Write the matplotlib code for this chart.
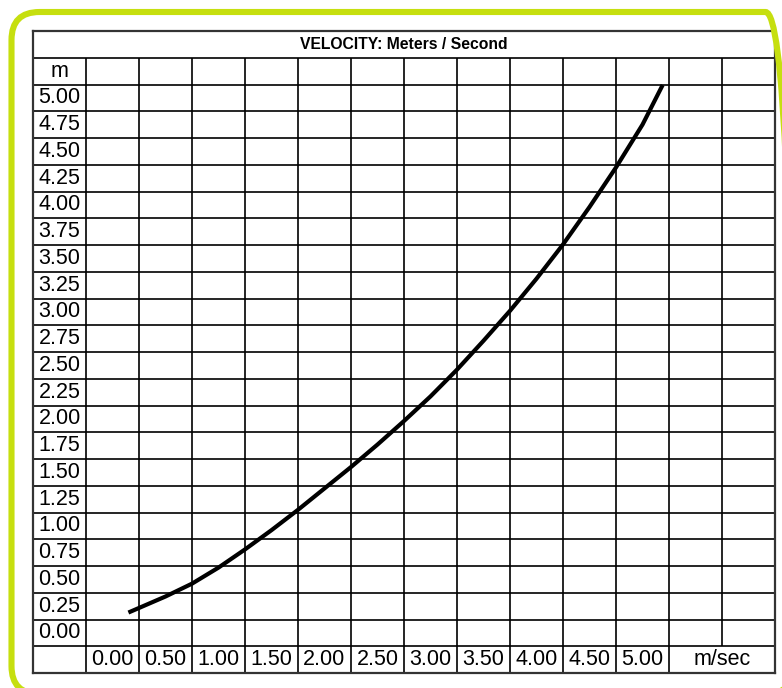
import numpy as np
import matplotlib
matplotlib.use("Agg")
import matplotlib.pyplot as plt
from matplotlib.patches import FancyBboxPatch

plt.rcParams["font.family"] = ["Liberation Sans", "DejaVu Sans"]
plt.rcParams["savefig.bbox"] = "standard"

TITLE = "VELOCITY: Meters / Second"
Y_UNIT = "m"
X_UNIT = "m/sec"

# row / column labels of the table (cell centres in data units)
Y_LABELS = [0.00, 0.25, 0.50, 0.75, 1.00, 1.25, 1.50, 1.75, 2.00, 2.25, 2.50,
            2.75, 3.00, 3.25, 3.50, 3.75, 4.00, 4.25, 4.50, 4.75, 5.00]
X_LABELS = [0.00, 0.50, 1.00, 1.50, 2.00, 2.50, 3.00, 3.50, 4.00, 4.50, 5.00]

# curve
velocity = [0.15, 0.50, 0.75, 1.00, 1.25, 1.50, 1.75, 2.00, 2.25, 2.50, 2.75,
            3.00, 3.25, 3.50, 3.75, 4.00, 4.25, 4.50, 4.75, 5.00, 5.19]
meters = [0.19, 0.34, 0.46, 0.61, 0.78, 0.96, 1.15, 1.35, 1.55, 1.76, 1.98,
          2.21, 2.46, 2.73, 3.01, 3.31, 3.63, 3.98, 4.35, 4.75, 5.12]

W, H = 782, 688
fig = plt.figure(figsize=(W / 100, H / 100), dpi=100)

# green rounded frame in display pixels (origin bottom-left), running off the canvas
frame = FancyBboxPatch((11.5, -6), 782, 682, boxstyle="round,pad=0,rounding_size=28",
                       fill=False, edgecolor="#c6df0f", linewidth=4.4, transform=None)
fig.patches.append(frame)

# table area
x0, x1, y0, y1 = 33, 775, 31, 673
ax = fig.add_axes([x0 / W, 1 - y1 / H, (x1 - x0) / W, (y1 - y0) / H])
xstep = X_LABELS[1] - X_LABELS[0]
ystep = Y_LABELS[1] - Y_LABELS[0]
xmin, xmax = X_LABELS[0] - 1.5 * xstep, X_LABELS[-1] + 2.5 * xstep
ymin, ymax = Y_LABELS[0] - 1.5 * ystep, Y_LABELS[-1] + 2.5 * ystep
ax.set_xlim(xmin, xmax)
ax.set_ylim(ymin, ymax)
ax.set_xticks([])
ax.set_yticks([])
for s in ax.spines.values():
    s.set_linewidth(1.6)
    s.set_color("#333333")

lw = 1.2
title_bottom = ymax - ystep
# horizontal lines
for yv in np.arange(ymin + ystep, ymax - 0.5 * ystep, ystep):
    ax.hlines(yv, xmin, xmax, color="black", linewidth=lw)
# vertical lines (first column edge + every label column)
col_edges = [X_LABELS[0] - 0.5 * xstep] + [v + 0.5 * xstep for v in X_LABELS]
for xv in col_edges:
    ax.vlines(xv, ymin, title_bottom, color="black", linewidth=lw)
# extra column line above the unit cell
ax.vlines(X_LABELS[-1] + 1.5 * xstep, ymin + ystep, title_bottom, color="black", linewidth=lw)

label_x = X_LABELS[0] - xstep
label_y = Y_LABELS[0] - ystep
fs = 15.5
for v in Y_LABELS:
    ax.text(label_x, v, f"{v:.2f}", ha="center", va="center", fontsize=fs)
ax.text(label_x, Y_LABELS[-1] + ystep, Y_UNIT, ha="center", va="center", fontsize=fs)
for v in X_LABELS:
    ax.text(v, label_y, f"{v:.2f}", ha="center", va="center", fontsize=fs)
ax.text(X_LABELS[-1] + 1.5 * xstep, label_y, X_UNIT, ha="center", va="center", fontsize=fs)
ax.text((xmin + xmax) / 2, ymax - 0.5 * ystep, TITLE, ha="center", va="center",
        fontsize=11.3, fontweight="bold")

ax.plot(velocity, meters, color="black", linewidth=3.0, solid_capstyle="butt",
        solid_joinstyle="round", zorder=5)

fig.savefig("out.png", dpi=100)
